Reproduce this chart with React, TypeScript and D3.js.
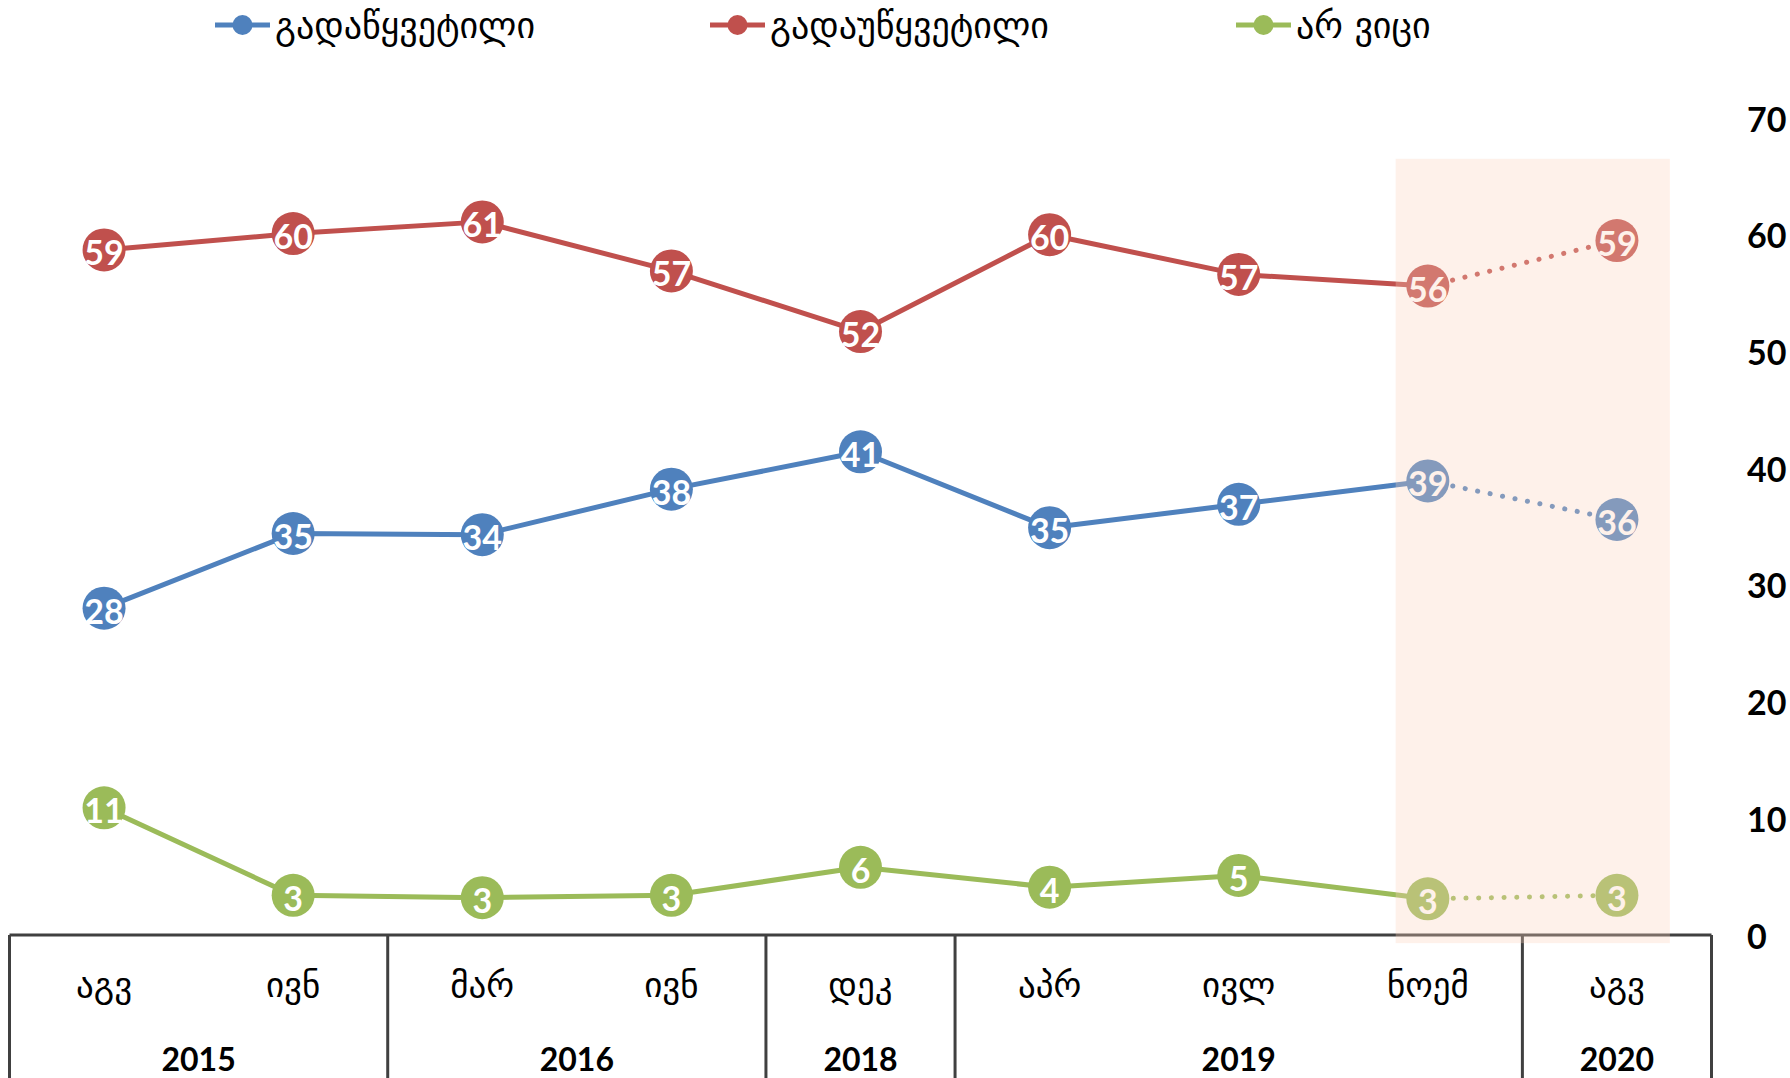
import React from "react";
import * as d3 from "d3";

const months = ["აგვ", "ივნ", "მარ", "ივნ", "დეკ", "აპრ", "ივლ", "ნოემ", "აგვ"];
const yearLabels = ["2015", "2016", "2018", "2019", "2020"];
const yearSpans = [2, 2, 1, 3, 1];
const seriesNames = ["გადაწყვეტილი", "გადაუწყვეტილი", "არ ვიცი"];
const seriesColors = ["#4F81BD", "#C0504D", "#9BBB59"];
const decidedValues = [28.0, 34.4, 34.3, 38.2, 41.4, 34.9, 36.9, 38.9, 35.6];
const decidedLabels = [28, 35, 34, 38, 41, 35, 37, 39, 36];
const undecidedValues = [58.7, 60.1, 61.1, 56.9, 51.7, 60.0, 56.6, 55.6, 59.5];
const undecidedLabels = [59, 60, 61, 57, 52, 60, 57, 56, 59];
const dontKnowValues = [10.9, 3.4, 3.2, 3.4, 5.8, 4.1, 5.1, 3.1, 3.4];
const dontKnowLabels = [11, 3, 3, 3, 6, 4, 5, 3, 3];
const yTicks = [0, 10, 20, 30, 40, 50, 60, 70];

const W = 1790;
const H = 1078;
const NUM_FONT = "Lato, 'Open Sans', sans-serif";
const GEO_FONT = "'DejaVu Sans', sans-serif";

export default function App() {
  const series = [
    { name: seriesNames[0], color: seriesColors[0], values: decidedValues, labels: decidedLabels },
    { name: seriesNames[1], color: seriesColors[1], values: undecidedValues, labels: undecidedLabels },
    { name: seriesNames[2], color: seriesColors[2], values: dontKnowValues, labels: dontKnowLabels },
  ];
  const idx = d3.range(months.length);
  const xb = d3.scaleBand<number>().domain(idx).range([9.5, 1711.5]).padding(0);
  const bw = xb.bandwidth();
  const cx = (i: number) => (xb(i) as number) + bw / 2;
  const y = d3.scaleLinear().domain([0, 70]).range([935, 118]);
  const line = d3
    .line<[number, number]>()
    .x((d) => cx(d[0]))
    .y((d) => y(d[1]));

  const n = months.length;
  const lastSolid = n - 2;

  const bounds: number[] = [0];
  yearSpans.reduce((acc, s) => {
    bounds.push(acc + s);
    return acc + s;
  }, 0);

  const legendX = [215, 710, 1236];

  const rectLeft = cx(n - 2) - 0.17 * bw;
  const rectRight = cx(n - 1) + 0.28 * bw;

  return (
    <svg
      width={W}
      height={H}
      style={{ position: "absolute", left: 0, top: 0, background: "#fff" }}
    >
      {/* legend */}
      {series.map((s, i) => (
        <g key={i} transform={`translate(${legendX[i]},25)`}>
          <line x1={0} x2={55} y1={0} y2={0} stroke={s.color} strokeWidth={5} />
          <circle cx={27.5} cy={0} r={10} fill={s.color} />
          <text x={60} y={0} dominantBaseline="central" fontFamily={GEO_FONT} fontSize={36} fill="#000">
            {s.name}
          </text>
        </g>
      ))}

      {/* axis */}
      <line x1={xb(0) as number} x2={(xb(n - 1) as number) + bw} y1={y(0)} y2={y(0)} stroke="#404040" strokeWidth={3} />
      {bounds.map((b, i) => {
        const xx = b === 0 ? (xb(0) as number) : b >= n ? (xb(n - 1) as number) + bw : (xb(b) as number);
        return <line key={i} x1={xx} x2={xx} y1={y(0)} y2={H} stroke="#404040" strokeWidth={3} />;
      })}
      {months.map((m, i) => (
        <text key={i} x={cx(i)} y={985} textAnchor="middle" dominantBaseline="central" fontFamily={GEO_FONT} fontSize={35}>
          {m}
        </text>
      ))}
      {yearLabels.map((yl, i) => {
        const a = bounds[i];
        const b = bounds[i + 1] - 1;
        const mx = (cx(a) + cx(b)) / 2;
        return (
          <text key={i} x={mx} y={1058} textAnchor="middle" dominantBaseline="central" fontFamily={NUM_FONT} fontWeight={700} fontSize={32}>
            {yl}
          </text>
        );
      })}

      {/* y axis labels */}
      {yTicks.map((t) => (
        <text key={t} x={1747} y={y(t)} dominantBaseline="central" fontFamily={NUM_FONT} fontWeight={700} fontSize={34}>
          {t}
        </text>
      ))}

      {/* lines */}
      {series.map((s, si) => {
        const pts: [number, number][] = s.values.map((v, i) => [i, v]);
        return (
          <g key={si}>
            <path d={line(pts.slice(0, lastSolid + 1)) || ""} fill="none" stroke={s.color} strokeWidth={5} strokeLinejoin="round" />
            <path
              d={line(pts.slice(lastSolid)) || ""}
              fill="none"
              stroke={s.color}
              strokeWidth={5}
              strokeDasharray="0.1 12.6"
              strokeLinecap="round"
            />
            {s.values.map((v, i) => (
              <g key={i}>
                <circle cx={cx(i)} cy={y(v)} r={21.5} fill={s.color} />
                <text
                  x={cx(i)}
                  y={y(v) + 2}
                  textAnchor="middle"
                  dominantBaseline="central"
                  fontFamily={NUM_FONT}
                  fontWeight={700}
                  fontSize={34}
                  fill="#fff"
                >
                  {s.labels[i]}
                </text>
              </g>
            ))}
          </g>
        );
      })}

      {/* highlight overlay */}
      <rect
        x={rectLeft}
        y={y(66.5)}
        width={rectRight - rectLeft}
        height={y(-0.7) - y(66.5)}
        fill="rgb(252,210,186)"
        fillOpacity={0.31}
      />
    </svg>
  );
}
